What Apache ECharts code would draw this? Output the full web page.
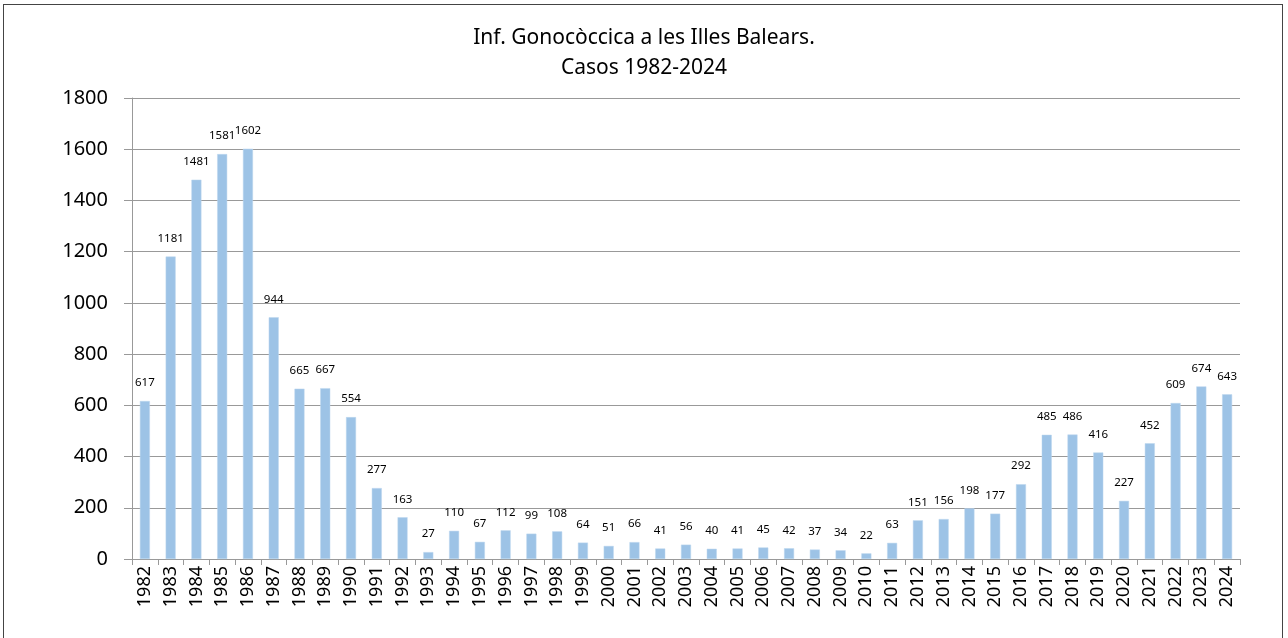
<!DOCTYPE html>
<html>
<head>
<meta charset="utf-8">
<script src="https://cdn.jsdelivr.net/npm/echarts@6/dist/echarts.min.js"></script>
<style>
  html, body { margin: 0; padding: 0; background: #fff; }
  #main { width: 1288px; height: 638px; }
  #frame { position: absolute; left: 3px; top: 4px; width: 1280px; height: 640px; border: 1px solid #444; box-sizing: border-box; pointer-events: none; }
</style>
</head>
<body>
<div id="main"></div>
<div id="frame"></div>
<script>
// anys i casos
const years = ['1982','1983','1984','1985','1986','1987','1988','1989','1990','1991','1992','1993','1994','1995','1996','1997','1998','1999','2000','2001','2002','2003','2004','2005','2006','2007','2008','2009','2010','2011','2012','2013','2014','2015','2016','2017','2018','2019','2020','2021','2022','2023','2024'];
const cases = [617,1181,1481,1581,1602,944,665,667,554,277,163,27,110,67,112,99,108,64,51,66,41,56,40,41,45,42,37,34,22,63,151,156,198,177,292,485,486,416,227,452,609,674,643];
const titleLines = ['Inf. Gonocòccica a les Illes Balears.', 'Casos 1982-2024'];

const chart = echarts.init(document.getElementById('main'));
const font = '"Noto Sans", "Open Sans", sans-serif';

chart.setOption({
  backgroundColor: '#ffffff',
  animation: false,
  title: {
    text: titleLines.join('\n'),
    left: 'center',
    top: 18,
    textStyle: { fontFamily: font, fontSize: 21, fontWeight: 'normal', color: '#000', lineHeight: 30 }
  },
  grid: { left: 132, right: 48, top: 98, bottom: 79 },
  xAxis: {
    type: 'category',
    data: years,
    axisLine: { lineStyle: { color: '#999' } },
    axisTick: { show: true, length: 6, lineStyle: { color: '#999' } },
    axisLabel: { rotate: 90, interval: 0, fontFamily: font, fontSize: 18, color: '#000', margin: 7 }
  },
  yAxis: {
    type: 'value',
    min: 0,
    max: 1800,
    interval: 200,
    axisLine: { show: true, lineStyle: { color: '#999' } },
    axisTick: { show: true, length: 8, lineStyle: { color: '#999' } },
    splitLine: { lineStyle: { color: '#999' } },
    axisLabel: { fontFamily: font, fontSize: 20, color: '#000', margin: 24, formatter: v => String(v) }
  },
  series: [{
    type: 'bar',
    data: cases,
    barWidth: 10,
    itemStyle: { color: '#9dc3e6', borderColor: '#bdd7ee', borderWidth: 0.5 },
    label: {
      show: true,
      position: 'top',
      distance: 12,
      fontFamily: font,
      fontSize: 11.5,
      color: '#000'
    }
  }]
});
</script>
</body>
</html>
